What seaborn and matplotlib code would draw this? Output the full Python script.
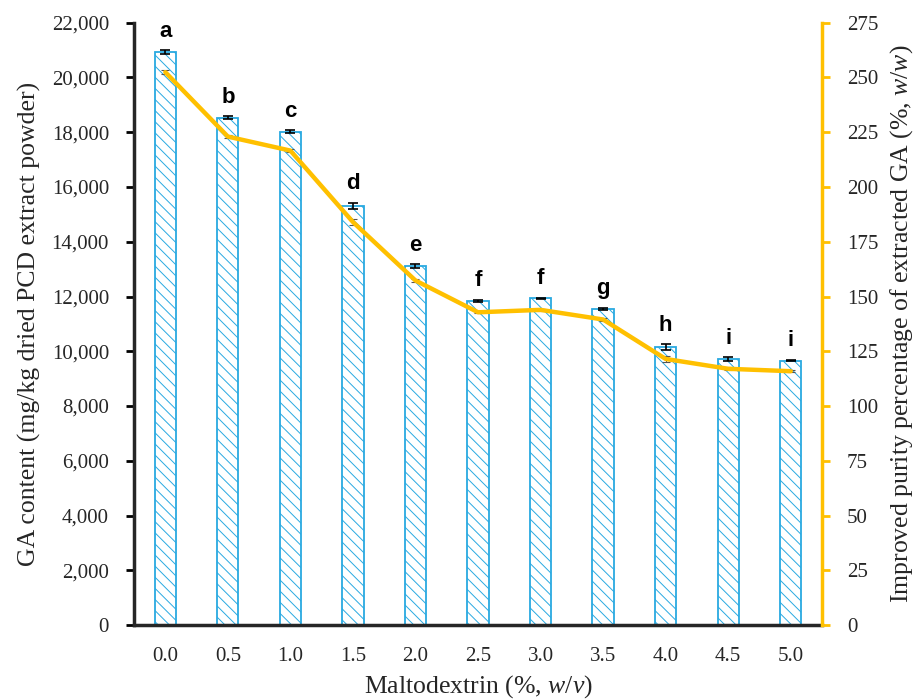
import numpy as np
import pandas as pd
import matplotlib
matplotlib.use("Agg")
import matplotlib.pyplot as plt
import seaborn as sns

# Data
concentration = ["0.0", "0.5", "1.0", "1.5", "2.0", "2.5", "3.0", "3.5", "4.0", "4.5", "5.0"]
ga_content = [20920, 18530, 18020, 15320, 13110, 11850, 11930, 11540, 10140, 9720, 9660]
ga_error = [80, 60, 50, 110, 60, 40, 25, 50, 110, 60, 30]
purity = [252.4, 223.0, 216.6, 184.0, 157.3, 142.8, 143.9, 139.5, 121.5, 117.0, 115.9]
purity_error = [1.0, 0.8, 0.6, 1.2, 0.8, 0.5, 0.3, 0.6, 1.2, 0.7, 0.4]
letters = ["a", "b", "c", "d", "e", "f", "f", "g", "h", "i", "i"]

df = pd.DataFrame({"conc": concentration, "ga": ga_content, "purity": purity})

sns.set_style("white")
plt.rcParams["font.family"] = ["Liberation Serif", "DejaVu Serif"]
plt.rcParams["mathtext.fontset"] = "custom"
plt.rcParams["mathtext.it"] = "Liberation Serif:italic"
plt.rcParams["mathtext.rm"] = "Liberation Serif"
plt.rcParams["hatch.linewidth"] = 0.7

bar_blue = "#29A9E1"
gold = "#FFC000"

fig = plt.figure(figsize=(9.2, 7), dpi=100)
ax = fig.add_axes([0.1457, 0.107, 0.7478, 0.8606])

sns.barplot(data=df, x="conc", y="ga", ax=ax, color="white", width=0.34,
            edgecolor=bar_blue, linewidth=1.3, errorbar=None, saturation=1)
for patch in ax.patches:
    patch.set_hatch("\\\\\\")

xpos = np.arange(len(concentration))
ax.errorbar(xpos, ga_content, yerr=ga_error, fmt="none", ecolor="black",
            elinewidth=1.2, capsize=3.5, capthick=1.2, zorder=5)

for x, y, e, lab in zip(xpos, ga_content, ga_error, letters):
    ax.annotate(lab, (x, y + e), xytext=(0, 6), textcoords="offset points",
                ha="center", va="bottom", fontsize=16, fontweight="bold",
                family="Liberation Sans", color="black")

ax.set_ylim(0, 22000)
ax.set_xlim(-0.5, len(concentration) - 0.5)
ax.set_yticks(np.arange(0, 22001, 2000))
ax.set_yticklabels([f"{v:,}" for v in range(0, 22001, 2000)])
ax.set_xticks(np.arange(-0.5, len(concentration), 1), minor=False)
ax.set_xticklabels([])
ax.set_xticks(xpos, minor=True)
ax.set_xticklabels(concentration, minor=True)
ax.tick_params(axis="x", which="major", direction="out", length=6, width=2, color="black")
ax.tick_params(axis="x", which="minor", length=0, labelsize=15, pad=16)
ax.tick_params(axis="y", direction="out", length=6, width=2, color="black",
               labelsize=15, pad=12)
ax.set_xlabel(r"Maltodextrin (%, $\mathit{w/v}$)", fontsize=18.5, labelpad=5)
ax.set_ylabel("GA content (mg/kg dried PCD extract powder)", fontsize=18.5, labelpad=8)

ax2 = ax.twinx()
sns.lineplot(x=xpos, y=purity, ax=ax2, color=gold, linewidth=3.2, zorder=4)
ax2.errorbar(xpos, purity, yerr=purity_error, fmt="none", ecolor="#555555",
             elinewidth=0.8, capsize=3, capthick=0.8, zorder=3)
ax2.set_ylim(0, 275)
ax2.set_yticks(np.arange(0, 276, 25))
ax2.tick_params(axis="y", direction="out", length=6, width=2, color=gold,
                labelsize=15, pad=12)
ax2.set_ylabel(r"Improved purity percentage of extracted GA (%, $\mathit{w/w}$)",
               fontsize=18.5, labelpad=7)

for a in (ax, ax2):
    a.spines["top"].set_visible(False)
ax.spines["right"].set_visible(False)
ax.spines["left"].set_linewidth(2.5)
ax.spines["bottom"].set_linewidth(2.5)
ax2.spines["left"].set_visible(False)
ax2.spines["bottom"].set_visible(False)
ax2.spines["right"].set_color(gold)
ax2.spines["right"].set_linewidth(2.5)

fig.savefig("out.png", dpi=100)
